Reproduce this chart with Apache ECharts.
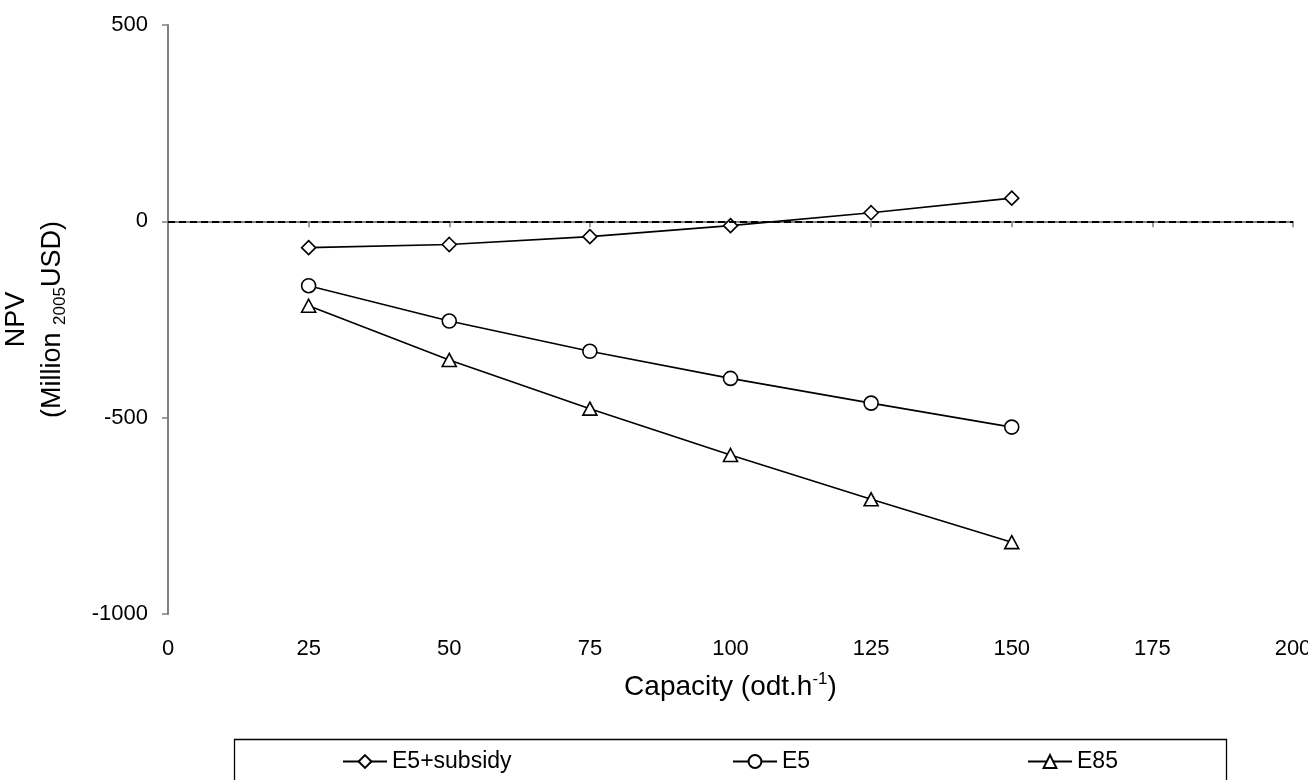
<!DOCTYPE html>
<html>
<head>
<meta charset="utf-8">
<script src="https://cdn.jsdelivr.net/npm/echarts@6/dist/echarts.min.js"></script>
<style>html,body{margin:0;padding:0;background:#fff}#c{width:1308px;height:780px}</style>
</head>
<body>
<div id="c"></div>
<script>
const capacity = [25, 50, 75, 100, 125, 150];
const e5Subsidy = [-67, -59, -39, -11, 22, 59];
const e5 = [-164, -254, -331, -400, -463, -524];
const e85 = [-215, -353, -477, -595, -708, -817];
const seriesNames = ['E5+subsidy', 'E5', 'E85'];
const seriesSymbols = ['diamond', 'circle', 'triangle'];

const FONT = '"Liberation Sans", Arial, sans-serif';
const chart = echarts.init(document.getElementById('c'), null, {renderer: 'canvas'});

function pairs(vals) { return capacity.map((x, i) => [x, vals[i]]); }

function mkSeries(name, vals, sym, withZero) {
  const s = {
    name: name,
    type: 'line',
    data: pairs(vals),
    symbol: sym,
    symbolSize: sym === 'triangle' ? [14, 13] : 14,
    showAllSymbols: true,
    lineStyle: {color: '#000', width: 1.6},
    itemStyle: {color: '#fff', borderColor: '#000', borderWidth: 1.6},
    emphasis: {disabled: true},
    animation: false,
    z: 3
  };
  if (withZero) {
    s.markLine = {
      silent: true,
      symbol: 'none',
      label: {show: false},
      lineStyle: {color: '#000', type: [7, 4], width: 2},
      data: [{yAxis: 0}],
      animation: false
    };
  }
  return s;
}

function mkLegend(idx, left) {
  return {
    data: [seriesNames[idx]],
    left: left,
    top: 750,
    padding: 0,
    itemWidth: 44,
    itemHeight: 16,
    textStyle: {fontFamily: FONT, fontSize: 23, color: '#000'},
    selectedMode: false
  };
}

const option = {
  backgroundColor: '#fff',
  animation: false,
  textStyle: {fontFamily: FONT},
  grid: {left: 168, right: 15, top: 25, bottom: 166, containLabel: false, outerBoundsMode: 'none'},
  xAxis: {
    type: 'value',
    min: 0, max: 200, interval: 25,
    name: '{t|Capacity (odt.h}{sup|-1}{t|)}',
    nameLocation: 'middle',
    nameGap: 57,
    nameTextStyle: {
      fontFamily: FONT, color: '#000',
      rich: {
        t: {fontFamily: FONT, fontSize: 28, color: '#000'},
        sup: {fontFamily: FONT, fontSize: 17, color: '#000', padding: [0, 0, 16, 0]}
      }
    },
    axisLine: {show: true, lineStyle: {color: '#808080', width: 2}},
    axisTick: {show: true, inside: false, length: 6, lineStyle: {color: '#808080', width: 1.5}},
    axisLabel: {fontFamily: FONT, fontSize: 22, color: '#000', margin: 24},
    splitLine: {show: false}
  },
  yAxis: {
    type: 'value',
    min: -1000, max: 500, interval: 500,
    name: '{t|NPV}\n{t|(Million }{sub|2005}{t|USD)}',
    nameLocation: 'middle',
    nameGap: 97,
    nameRotate: 90,
    nameTextStyle: {
      fontFamily: FONT, color: '#000', align: 'center',
      rich: {
        t: {fontFamily: FONT, fontSize: 27, color: '#000', lineHeight: 36},
        sub: {fontFamily: FONT, fontSize: 17, color: '#000', padding: [14, 0, 0, 0], lineHeight: 36}
      }
    },
    axisLine: {show: true, onZero: false, lineStyle: {color: '#808080', width: 2}},
    axisTick: {show: true, inside: false, length: 6, lineStyle: {color: '#808080', width: 1.5}},
    axisLabel: {fontFamily: FONT, fontSize: 22, color: '#000', margin: 20, formatter: function (v) { return String(v); }},
    splitLine: {show: false}
  },
  legend: [mkLegend(0, 342), mkLegend(1, 732), mkLegend(2, 1027)],
  graphic: [{
    type: 'rect',
    left: 232, top: 737,
    shape: {width: 992, height: 70},
    style: {fill: 'none', stroke: '#000', lineWidth: 1.3},
    silent: true,
    z: 0
  }],
  series: [
    mkSeries(seriesNames[0], e5Subsidy, seriesSymbols[0], true),
    mkSeries(seriesNames[1], e5, seriesSymbols[1], false),
    mkSeries(seriesNames[2], e85, seriesSymbols[2], false)
  ]
};
chart.setOption(option);
</script>
</body>
</html>
